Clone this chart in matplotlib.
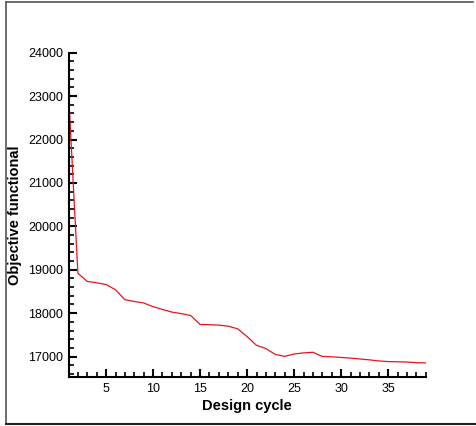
import matplotlib
matplotlib.use("Agg")
import matplotlib.pyplot as plt
from matplotlib.lines import Line2D
from matplotlib.ticker import MultipleLocator

plt.rcParams['font.family'] = ['Liberation Sans', 'DejaVu Sans']

design_cycle = list(range(1, 40))
objective = [23100, 18920, 18730, 18700, 18660, 18540, 18310, 18270, 18235, 18150,
             18085, 18025, 17990, 17945, 17740, 17735, 17725, 17700, 17640, 17460,
             17260, 17185, 17050, 17005, 17060, 17085, 17100, 17005, 16995, 16980,
             16965, 16945, 16925, 16900, 16885, 16880, 16875, 16860, 16855]

W, H = 476, 426
fig = plt.figure(figsize=(W / 100, H / 100), dpi=100)
ax = fig.add_axes([68.5 / W, 1 - 377 / H, (425.7 - 68.5) / W, (377 - 52.7) / H])

ax.plot(design_cycle, objective, color='#e8141c', lw=0.9)

ax.set_xlim(1, 39)
ax.set_ylim(16530, 24000)
ax.xaxis.set_major_locator(MultipleLocator(5))
ax.xaxis.set_minor_locator(MultipleLocator(1))
ax.yaxis.set_major_locator(MultipleLocator(1000))
ax.yaxis.set_minor_locator(MultipleLocator(200))
for s in ['top', 'right']:
    ax.spines[s].set_visible(False)
for s in ['left', 'bottom']:
    ax.spines[s].set_linewidth(1.5)
ax.tick_params(which='major', direction='in', length=6, width=1.5, labelsize=9, pad=4)
ax.tick_params(which='minor', direction='in', length=3.5, width=1.2)
ax.set_xlabel('Design cycle', fontsize=10.5, fontweight='bold', labelpad=3)
ax.set_ylabel('Objective functional', fontsize=10.5, fontweight='bold', labelpad=4)

# outer frame
fig.add_artist(Line2D([5.5 / W, 5.5 / W], [1 - 1.5 / H, 1 - 423.5 / H], color='#555555', lw=1.2, transform=fig.transFigure))
fig.add_artist(Line2D([5.5 / W, 473 / W], [1 - 1.5 / H, 1 - 1.5 / H], color='#555555', lw=1.2, transform=fig.transFigure))
fig.add_artist(Line2D([5.5 / W, 1.0], [1 - 423.5 / H, 1 - 423.5 / H], color='#222222', lw=1.5, transform=fig.transFigure))

fig.savefig('out.png', dpi=100)
